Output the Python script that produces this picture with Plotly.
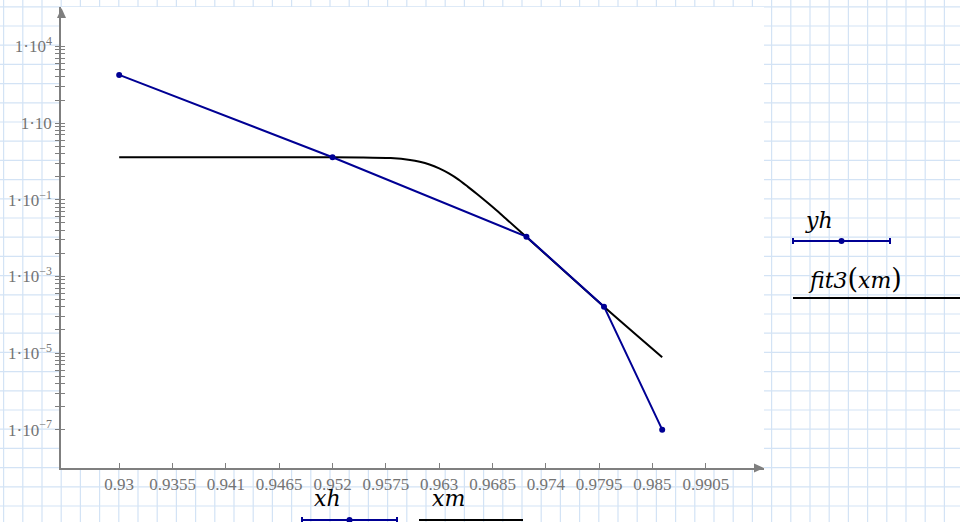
import plotly.graph_objects as go

# ---------------- data ----------------
xh = [0.930, 0.952, 0.972, 0.980, 0.986]
yh = [181, 1.29, 0.0109, 1.62e-4, 1.0e-7]

xm = [0.930, 0.952, 0.955, 0.958, 0.960, 0.961, 0.962, 0.963, 0.964,
      0.965, 0.966, 0.967, 0.968, 0.969, 0.970, 0.972, 0.980, 0.986]
fit3_xm = [1.29, 1.29, 1.275, 1.22, 1.094, 0.982, 0.834, 0.661, 0.488,
           0.336, 0.214, 0.135, 0.0832, 0.0507, 0.0302, 0.0107, 1.62e-4, 7.8e-6]

x_tickvals = [0.93, 0.9355, 0.941, 0.9465, 0.952, 0.9575, 0.963,
              0.9685, 0.974, 0.9795, 0.985, 0.9905]
x_ticktext = ["0.93", "0.9355", "0.941", "0.9465", "0.952", "0.9575",
              "0.963", "0.9685", "0.974", "0.9795", "0.985", "0.9905"]

y_tickvals = [1e-7, 1e-5, 1e-3, 1e-1, 1e1, 1e3]
y_ticktext = ["1·10<sup>−7</sup>", "1·10<sup>−5</sup>", "1·10<sup>−3</sup>",
              "1·10<sup>−1</sup>", "1·10", "1·10<sup>4</sup>"]

x_range = [0.924, 0.9965]
y_range = [-8, 4.03]

# ---------------- geometry ----------------
W, H = 960, 522
L, R, T, B = 61, 764, 7, 468


def fx(px):
    return (px - L) / (R - L)


def fy(py):
    return (B - py) / (B - T)


BLUE = "#000094"
AXC = "#7f7f7f"
TXT = "#747474"
GRID = "#d3e3f5"

# minor ticks (Mathcad-style: log subdivisions over each 2-decade span)
minor = []
for base in y_tickvals[:-1]:
    for k in range(2, 10):
        minor.append(base * k * k)
all_yt = y_tickvals + minor
all_ytext = y_ticktext + [""] * len(minor)

fig = go.Figure()

fig.add_trace(go.Scatter(
    x=xm, y=fit3_xm, mode="lines",
    line=dict(color="black", width=2, shape="spline", smoothing=0.8),
    hoverinfo="skip", showlegend=False))
fig.add_trace(go.Scatter(
    x=xh, y=yh, mode="lines+markers", line=dict(color=BLUE, width=2),
    marker=dict(color=BLUE, size=6), showlegend=False))
# empty trace for the overlay axis (inside half of the y ticks)
fig.add_trace(go.Scatter(x=[None], y=[None], yaxis="y2", showlegend=False, hoverinfo="skip"))

shapes = []
# grid paper background
k = 0
while 3.6 + 19.2 * k < W:
    px = 3.6 + 19.2 * k
    shapes.append(dict(type="line", xref="paper", yref="paper", x0=fx(px), x1=fx(px),
                       y0=fy(0), y1=fy(H), line=dict(color=GRID, width=1.2), layer="below"))
    k += 1
k = 0
while 6.8 + 19.2 * k < H:
    py = 6.8 + 19.2 * k
    shapes.append(dict(type="line", xref="paper", yref="paper", x0=fx(0), x1=fx(W),
                       y0=fy(py), y1=fy(py), line=dict(color=GRID, width=1.2), layer="below"))
    k += 1
# white plot area
shapes.append(dict(type="rect", xref="paper", yref="paper", x0=0, x1=1, y0=0, y1=1,
                   fillcolor="white", line=dict(width=0), layer="below"))
# axis arrows
shapes.append(dict(type="path", xref="paper", yref="paper",
                   path=f"M {fx(764)} {fy(468)} L {fx(754)} {fy(463.5)} L {fx(754)} {fy(472.5)} Z",
                   fillcolor=AXC, line=dict(width=0)))
shapes.append(dict(type="path", xref="paper", yref="paper",
                   path=f"M {fx(61.5)} {fy(8)} L {fx(57)} {fy(18)} L {fx(66)} {fy(18)} Z",
                   fillcolor=AXC, line=dict(width=0)))


def legend_line(x0, x1, y, color, bars_dot):
    shapes.append(dict(type="line", xref="paper", yref="paper", x0=fx(x0), x1=fx(x1),
                       y0=fy(y), y1=fy(y), line=dict(color=color, width=2)))
    if bars_dot:
        for xx in (x0, x1):
            shapes.append(dict(type="line", xref="paper", yref="paper", x0=fx(xx), x1=fx(xx),
                               y0=fy(y - 3), y1=fy(y + 3), line=dict(color=color, width=2)))
        xc = (x0 + x1) / 2
        shapes.append(dict(type="circle", xref="paper", yref="paper",
                           x0=fx(xc - 3), x1=fx(xc + 3), y0=fy(y + 3), y1=fy(y - 3),
                           fillcolor=color, line=dict(width=0)))


legend_line(793, 890, 241, BLUE, True)
legend_line(793, 960, 298, "black", False)
legend_line(302, 397, 520, BLUE, True)
legend_line(419, 523, 520, "black", False)

annots = []


def lab(text, px, py):
    annots.append(dict(text=text, x=fx(px), y=fy(py), xref="paper", yref="paper",
                       showarrow=False, xanchor="center", yanchor="middle",
                       font=dict(family="DejaVu Serif", size=22, color="black")))


P0 = "<span style='font-size:27px'>(</span>"
P1 = "<span style='font-size:27px'>)</span>"
lab("<i>yh</i>", 819, 220)
lab("<i>fit3</i>" + P0 + "<i>xm</i>" + P1, 855, 278)
lab("<i>xh</i>", 327, 499)
lab("<i>xm</i>", 448, 499)

fig.update_layout(
    width=W, height=H,
    margin=dict(l=L, r=W - R, t=T, b=H - B, pad=0),
    paper_bgcolor="white", plot_bgcolor="rgba(0,0,0,0)",
    shapes=shapes, annotations=annots,
    xaxis=dict(range=x_range, tickmode="array", tickvals=x_tickvals, ticktext=x_ticktext,
               ticks="inside", ticklen=5, tickcolor=AXC, tickwidth=1,
               showline=True, linecolor=AXC, linewidth=1.5, showgrid=False, zeroline=False,
               tickfont=dict(family="Liberation Serif", size=17, color=TXT)),
    yaxis=dict(type="log", range=y_range, tickmode="array", tickvals=all_yt, ticktext=all_ytext,
               ticks="outside", ticklen=4, tickcolor=AXC, tickwidth=1,
               showline=True, linecolor=AXC, linewidth=1.5, showgrid=False, zeroline=False,
               tickfont=dict(family="Liberation Serif", size=17, color=TXT)),
    yaxis2=dict(type="log", range=y_range, overlaying="y", side="left", tickmode="array",
                tickvals=all_yt, ticks="inside", ticklen=4, tickcolor=AXC, tickwidth=1,
                showticklabels=False, showline=False, showgrid=False, zeroline=False),
    showlegend=False,
)

fig.write_html("out.html", config={"displayModeBar": False},
               post_script="document.body.style.margin='0px';document.documentElement.style.overflow='hidden';")
